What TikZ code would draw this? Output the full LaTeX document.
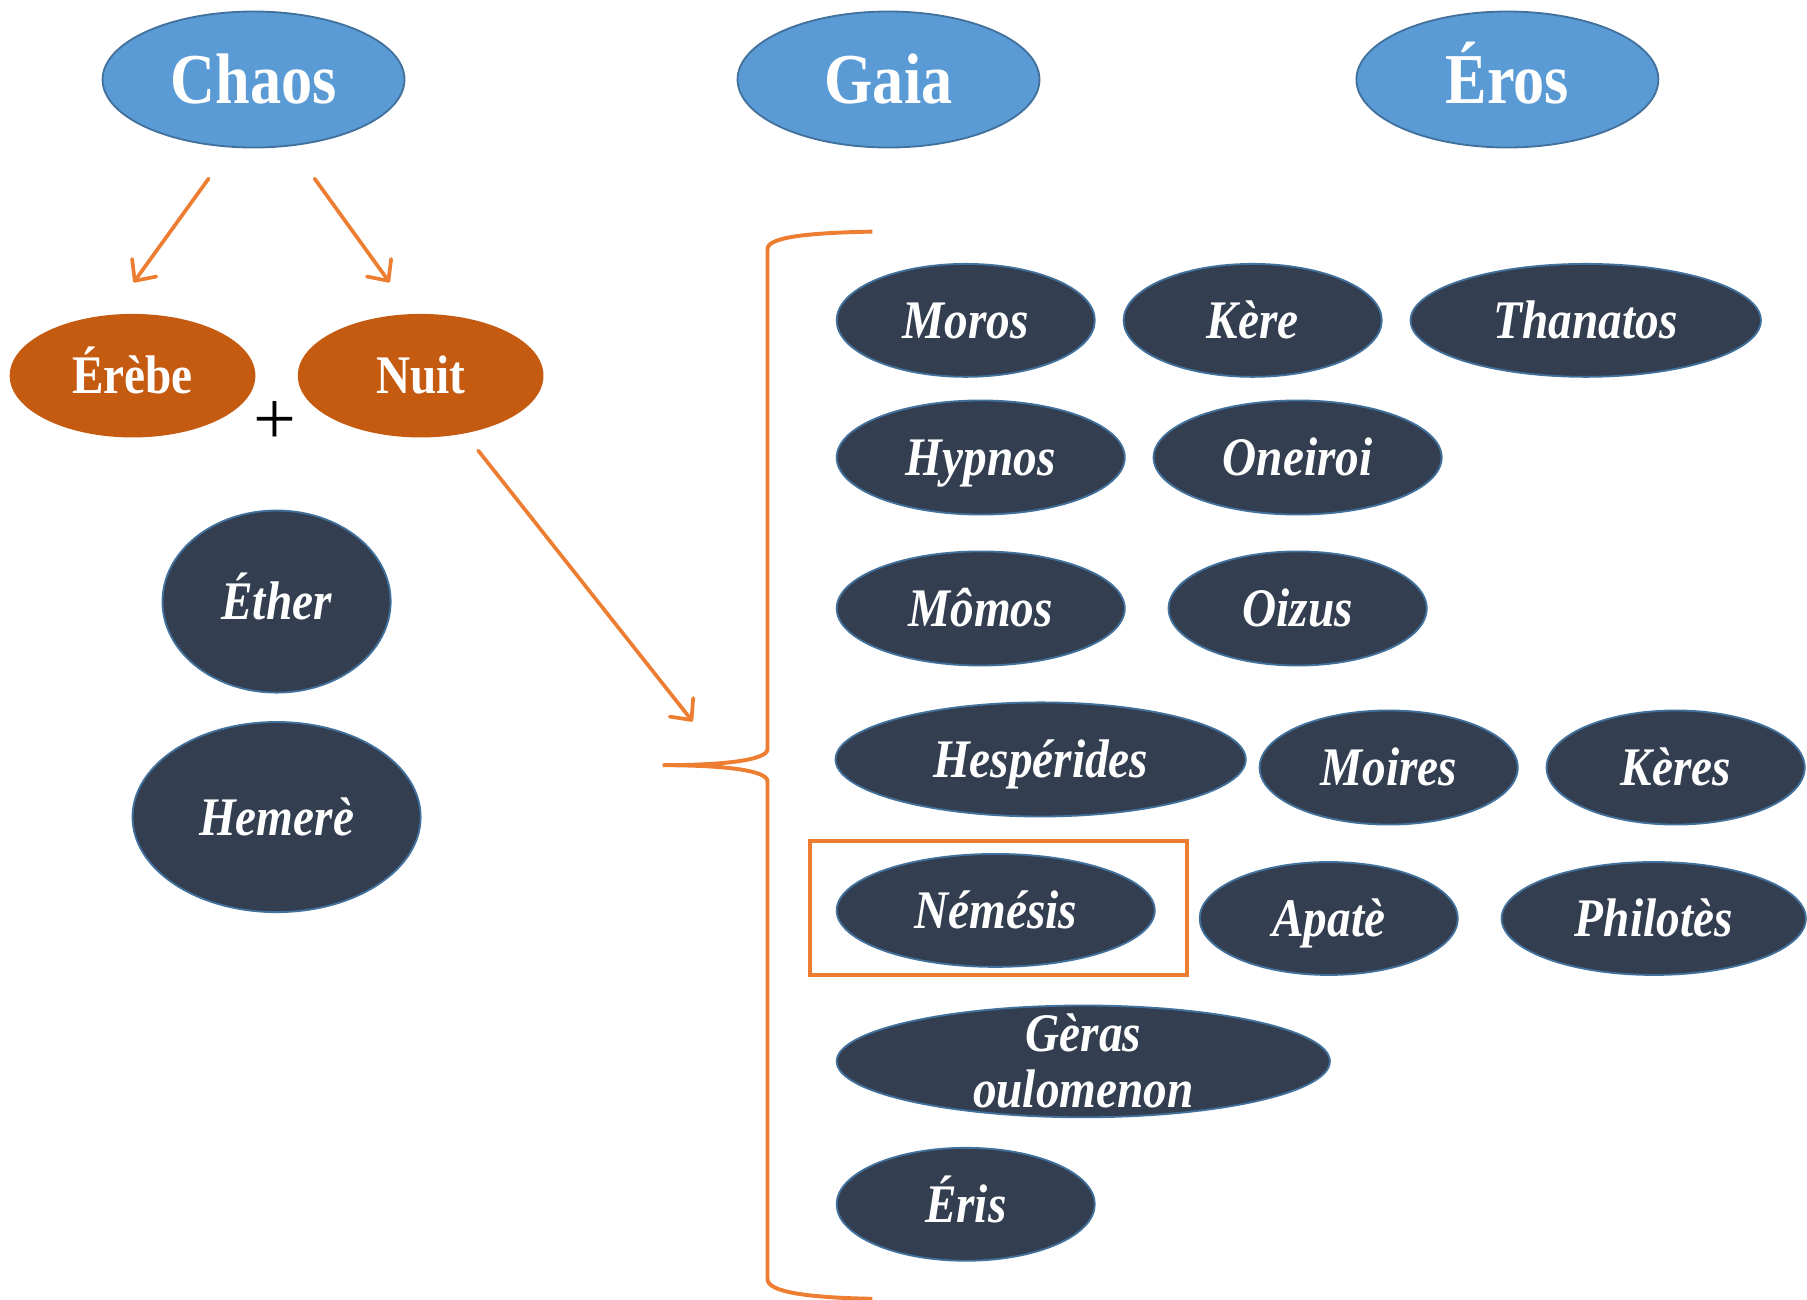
\documentclass[tikz,border=0pt]{standalone}
\usepackage{fontspec}
\usepackage{graphicx}
\setmainfont{Liberation Serif}
\usetikzlibrary{shapes.geometric,arrows.meta}
\definecolor{topblue}{HTML}{5B9BD5}
\definecolor{topedge}{HTML}{41719C}
\definecolor{rust}{HTML}{C55A11}
\definecolor{slate}{HTML}{333F50}
\definecolor{orangeline}{HTML}{ED7D31}
\newcommand{\tallt}[1]{\scalebox{1}[1.15]{#1}}
\begin{document}
\begin{tikzpicture}[x=0.5pt,y=-0.5pt,
  sz/.style 2 args={minimum width=#1*0.5pt, minimum height=#2*0.5pt},
  topnode/.style={ellipse, fill=topblue, draw=topedge, line width=0.8pt, inner sep=0pt,
    text=white, text height=20.5pt, text depth=0pt,
    font=\fontsize{27}{30}\selectfont\bfseries},
  rustnode/.style={ellipse, fill=rust, draw=rust, line width=0.6pt, inner sep=0pt,
    text=white, text height=15.6pt, text depth=0pt,
    font=\fontsize{20.5}{23}\selectfont\bfseries},
  darknode/.style={ellipse, fill=slate, draw=topedge, line width=0.8pt, inner sep=0pt,
    text=white, text height=15.6pt, text depth=0pt,
    font=\fontsize{20.5}{23}\selectfont\bfseries\itshape},
  orarrow/.style={draw=orangeline, line width=1.6pt, line cap=round,
    -{Straight Barb[length=7pt,width=13pt,round]}},
  brace/.style={draw=orangeline, line width=1.7pt},
  hilite/.style={draw=orangeline, line width=1.7pt}
]
\useasboundingbox (0,0) rectangle (1568,1128);

% top row
\node[topnode, sz={262}{118}] (chaos) at (220,69) {\tallt{Chaos}};
\node[topnode, sz={262}{118}] (gaia) at (771,69) {\tallt{Gaia}};
\node[topnode, sz={262}{118}] (eros) at (1308,69) {\tallt{Éros}};

% children of Chaos
\node[rustnode, sz={212}{106}] (erebe) at (115,326) {\tallt{Érèbe}};
\node[rustnode, sz={212}{106}] (nuit) at (365,326) {\tallt{Nuit}};
\node[font=\fontsize{33}{35}\selectfont, inner sep=0pt] (plus) at (239,367) {+};

\coordinate (c1s) at (181,155);
\coordinate (c1e) at (116,245);
\coordinate (c2s) at (273,155);
\coordinate (c2e) at (338,245);
\draw[orarrow] (c1s) -- (c1e);
\draw[orarrow] (c2s) -- (c2e);

% children of Erebe + Nuit
\node[darknode, sz={198}{158}] (ether) at (240,522) {\tallt{Éther}};
\node[darknode, sz={250}{165}] (hemere) at (240,709) {\tallt{Hemerè}};

% arrow from Nuit to the brace
\coordinate (nuitstart) at (415,391);
\coordinate (nuitend) at (601,626);
\draw[orarrow] (nuitstart) -- (nuitend);

% brace
\coordinate (brtop) at (757,201);
\coordinate (brtip) at (575,664);
\coordinate (brbot) at (757,1127);
\draw[brace] (brtop) .. controls (700,202) and (666,206) .. (666,216)
  -- (666,650) .. controls (666,660) and (625,664) .. (brtip)
  .. controls (625,664) and (666,668) .. (666,678)
  -- (666,1110) .. controls (666,1121) and (700,1126) .. (brbot);

% children of Nuit
\node[darknode, sz={224}{98}] (moros) at (838,278) {\tallt{Moros}};
\node[darknode, sz={224}{98}] (kere) at (1087,278) {\tallt{Kère}};
\node[darknode, sz={304}{98}] (thanatos) at (1376,278) {\tallt{Thanatos}};

\node[darknode, sz={250}{99}] (hypnos) at (851,397) {\tallt{Hypnos}};
\node[darknode, sz={250}{99}] (oneiroi) at (1126,397) {\tallt{Oneiroi}};

\node[darknode, sz={250}{99}] (momos) at (851,528) {\tallt{Mômos}};
\node[darknode, sz={224}{99}] (oizus) at (1126,528) {\tallt{Oizus}};

\node[darknode, sz={356}{99}] (hesperides) at (903,659) {\tallt{Hespérides}};
\node[darknode, sz={224}{99}] (moires) at (1205,666) {\tallt{Moires}};
\node[darknode, sz={224}{99}] (keres) at (1454,666) {\tallt{Kères}};

\node[darknode, sz={276}{98}] (nemesis) at (864,790) {\tallt{Némésis}};
\node[darknode, sz={224}{98}] (apate) at (1153,797) {\tallt{Apatè}};
\node[darknode, sz={264}{98}] (philotes) at (1435,797) {\tallt{Philotès}};

\node[darknode, sz={428}{97}, label={[text=white, inner sep=0pt, yshift=-3pt,
    font=\fontsize{20.5}{21}\selectfont\bfseries\itshape]center:\tallt{\begin{tabular}{@{}c@{}}Gèras\\oulomenon\end{tabular}}}] (geras) at (940,921) {};

\node[darknode, sz={224}{98}] (eris) at (838,1045) {\tallt{Éris}};

% highlight box around Nemesis
\draw[hilite] (703,730) rectangle (1030,846);
\end{tikzpicture}
\end{document}
